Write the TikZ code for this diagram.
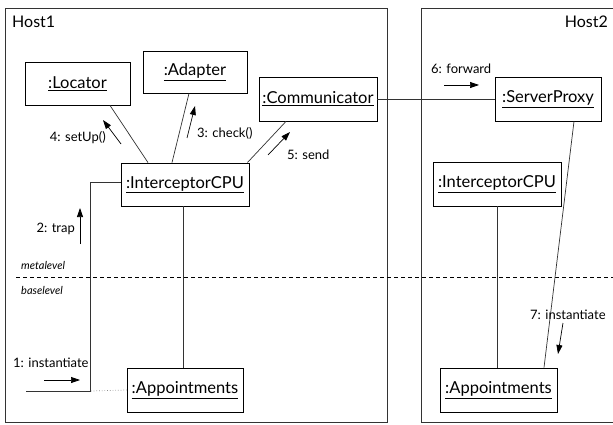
\documentclass[tikz,border=0pt]{standalone}
\usepackage{fontspec}
\setmainfont{Lato}
\usetikzlibrary{arrows.meta,calc}
\begin{document}
\begin{tikzpicture}[x=1pt,y=-1pt,
  obj/.style={draw=black,line width=0.8pt,fill=white,inner sep=0pt,font=\fontsize{16.5}{18}\selectfont},
  link/.style={draw=black!80,line width=0.7pt},
  msg/.style={draw=black,line width=0.7pt,-{Triangle[length=9pt,width=6pt]}},
  lbl/.style={inner sep=0pt,font=\fontsize{13}{15}\selectfont},
  lvl/.style={inner sep=0pt,font=\fontsize{11}{13}\selectfont\itshape},
  host/.style={draw=black!80,line width=0.8pt}]
\useasboundingbox (0,0) rectangle (613,425);
\fill[white] (0,0) rectangle (613,425);
% hosts
\draw[host] (5,8) rectangle (387,422);
\draw[host] (421,8) -- (640,8) (421,8) -- (421,422) -- (640,422);
\node[anchor=west,inner sep=0pt,font=\fontsize{16}{18}\selectfont] (h1) at (12,22) {Host1};
\node[anchor=east,inner sep=0pt,font=\fontsize{16}{18}\selectfont] (h2) at (608,22) {Host2};
% level line
\draw[dashed,line width=0.7pt,dash pattern=on 4pt off 3pt] (16,277) -- (613,277);
\node[lvl,anchor=west] (meta) at (21,265) {metalevel};
\node[lvl,anchor=west] (base) at (21,290) {baselevel};
% objects
\node[obj,minimum width=105pt,minimum height=43pt] (loc) at (77.5,83.5) {\underline{:Locator}};
\node[obj,minimum width=104pt,minimum height=42pt] (ad) at (195,72) {\underline{:Adapter}};
\node[obj,minimum width=118pt,minimum height=44pt] (com) at (318,99) {\underline{:Communicator}};
\node[obj,minimum width=128pt,minimum height=43pt] (icpu) at (185,184.5) {\underline{:InterceptorCPU}};
\node[obj,minimum width=116pt,minimum height=44pt] (app) at (185,390) {\underline{:Appointments}};
\node[obj,minimum width=106pt,minimum height=44pt] (sp) at (548,99) {\underline{:ServerProxy}};
\node[obj,minimum width=128pt,minimum height=44pt] (icpub) at (497,184) {\underline{:InterceptorCPU}};
\node[obj,minimum width=117pt,minimum height=44pt] (appb) at (498.5,390) {\underline{:Appointments}};
% links
\draw[link] ([xshift=32.5pt]loc.south) -- ([xshift=-37pt]icpu.north);
\draw[link] ([xshift=-6pt]ad.south) -- ([xshift=-13pt]icpu.north);
\draw[link] ([xshift=-32pt]com.south) -- ([xshift=-2pt]icpu.north east);
\draw[link] (com.east) -- (sp.west);
\draw[link] ([xshift=-2pt]icpu.south) -- ([xshift=-2pt]app.north);
\coordinate (trapend) at (26,391);
\coordinate (trapcorner) at (91,391);
\draw[link] ([yshift=2.5pt]icpu.west) -- ++(-30,0) |- (trapend);
\draw[black!45,line width=0.7pt,dotted] (trapcorner) -- (app.west);
\draw[link] ([xshift=26pt]sp.south) -- ([xshift=45.5pt]appb.north);
\draw[link] (icpub.south) -- (icpub.south |- appb.north);
% messages
\coordinate (m4a) at (121,144); \coordinate (m4b) at (103,120);
\draw[msg] (m4a) -- (m4b);
\node[lbl,anchor=east] (l4) at (106,138) {4: setUp()};
\coordinate (m3a) at (187,138); \coordinate (m3b) at (195,106);
\draw[msg] (m3a) -- (m3b);
\node[lbl,anchor=west] (l3) at (197,133) {3: check()};
\coordinate (m5a) at (268,155); \coordinate (m5b) at (290,132);
\draw[msg] (m5a) -- (m5b);
\node[lbl,anchor=west] (l5) at (287,155) {5: send};
\coordinate (m6a) at (444,85); \coordinate (m6b) at (479,85);
\draw[msg] (m6a) -- (m6b);
\node[lbl,anchor=west] (l6) at (431,69) {6: forward};
\coordinate (m2a) at (80,244); \coordinate (m2b) at (80,208);
\draw[msg] (m2a) -- (m2b);
\node[lbl,anchor=east] (l2) at (75,229) {2: trap};
\coordinate (m1a) at (44,380); \coordinate (m1b) at (80,380);
\draw[msg] (m1a) -- (m1b);
\node[lbl,anchor=west] (l1) at (13,363) {1: instantiate};
\coordinate (m7a) at (563,323); \coordinate (m7b) at (558,354);
\draw[msg] (m7a) -- (m7b);
\node[lbl,anchor=west] (l7) at (530,315) {7: instantiate};
\end{tikzpicture}
\end{document}
